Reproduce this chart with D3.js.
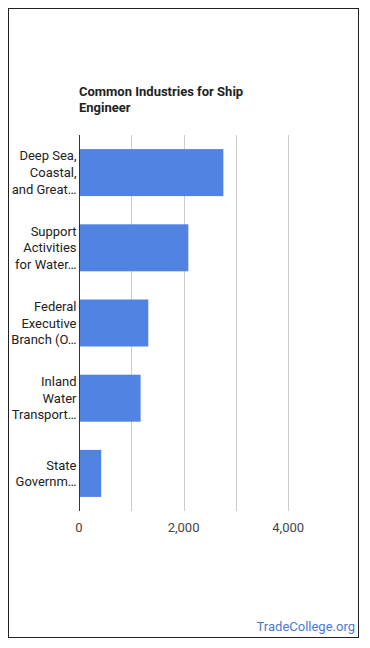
<!DOCTYPE html>
<html><head><meta charset="utf-8">
<script src="https://cdn.jsdelivr.net/npm/d3@7"></script>
<style>body{margin:0;background:#fff;font-family:Roboto,Arial,sans-serif;}</style>
</head><body>
<script>
const categories = [
  ["Deep Sea,", "Coastal,", "and Great…"],
  ["Support", "Activities", "for Water…"],
  ["Federal", "Executive", "Branch (O…"],
  ["Inland", "Water", "Transport…"],
  ["State", "Governm…"]
];
const values = [2760, 2090, 1325, 1178, 424];
const tickValues = [0, 2000, 4000];
const gridValues = [1000, 2000, 3000, 4000];

const W = 370, H = 648;
const svg = d3.select("body").append("svg").attr("width", W).attr("height", H);
svg.append("rect").attr("x", 8.5).attr("y", 8.5).attr("width", 350).attr("height", 629)
  .attr("fill", "#fff").attr("stroke", "#222").attr("stroke-width", 1);

const x = d3.scaleLinear().domain([0, 5000]).range([79, 340.5]);
const y = d3.scaleBand().domain(d3.range(values.length)).range([135, 511]).paddingInner(0.375).paddingOuter(0.1875);

svg.append("g").selectAll("line").data(gridValues).join("line")
  .attr("x1", d => Math.round(x(d)) + 0.5).attr("x2", d => Math.round(x(d)) + 0.5)
  .attr("y1", 135).attr("y2", 511).attr("stroke", "#ccc");

svg.append("g").selectAll("rect").data(values).join("rect")
  .attr("x", x(0)).attr("y", (d, i) => y(i)).attr("width", d => x(d) - x(0))
  .attr("height", y.bandwidth()).attr("fill", "#5183e3");

svg.append("line").attr("x1", 79.5).attr("x2", 79.5).attr("y1", 135).attr("y2", 511).attr("stroke", "#333");

const lh = 16.7;
categories.forEach((lines, i) => {
  const cy = y(i) + y.bandwidth() / 2;
  const t = svg.append("text").attr("text-anchor", "end").attr("font-size", 13).attr("fill", "#222");
  lines.forEach((l, j) => {
    t.append("tspan").attr("x", 76.5).attr("y", cy + (j - (lines.length - 1) / 2) * lh).attr("dy", "0.35em").text(l);
  });
});

svg.append("g").selectAll("text").data(tickValues).join("text")
  .attr("x", d => x(d)).attr("y", 527).attr("dy", "0.35em").attr("text-anchor", "middle")
  .attr("font-size", 13).attr("fill", "#444").text(d3.format(","));

const title = svg.append("text").attr("font-size", 13).attr("font-weight", "bold").attr("fill", "#222");
title.append("tspan").attr("x", 79).attr("y", 96).text("Common Industries for Ship");
title.append("tspan").attr("x", 79).attr("y", 112).text("Engineer");

svg.append("text").attr("x", 355).attr("y", 631).attr("text-anchor", "end")
  .attr("font-size", 13).attr("fill", "#4a7bd0").text("TradeCollege.org");
</script>
</body></html>
